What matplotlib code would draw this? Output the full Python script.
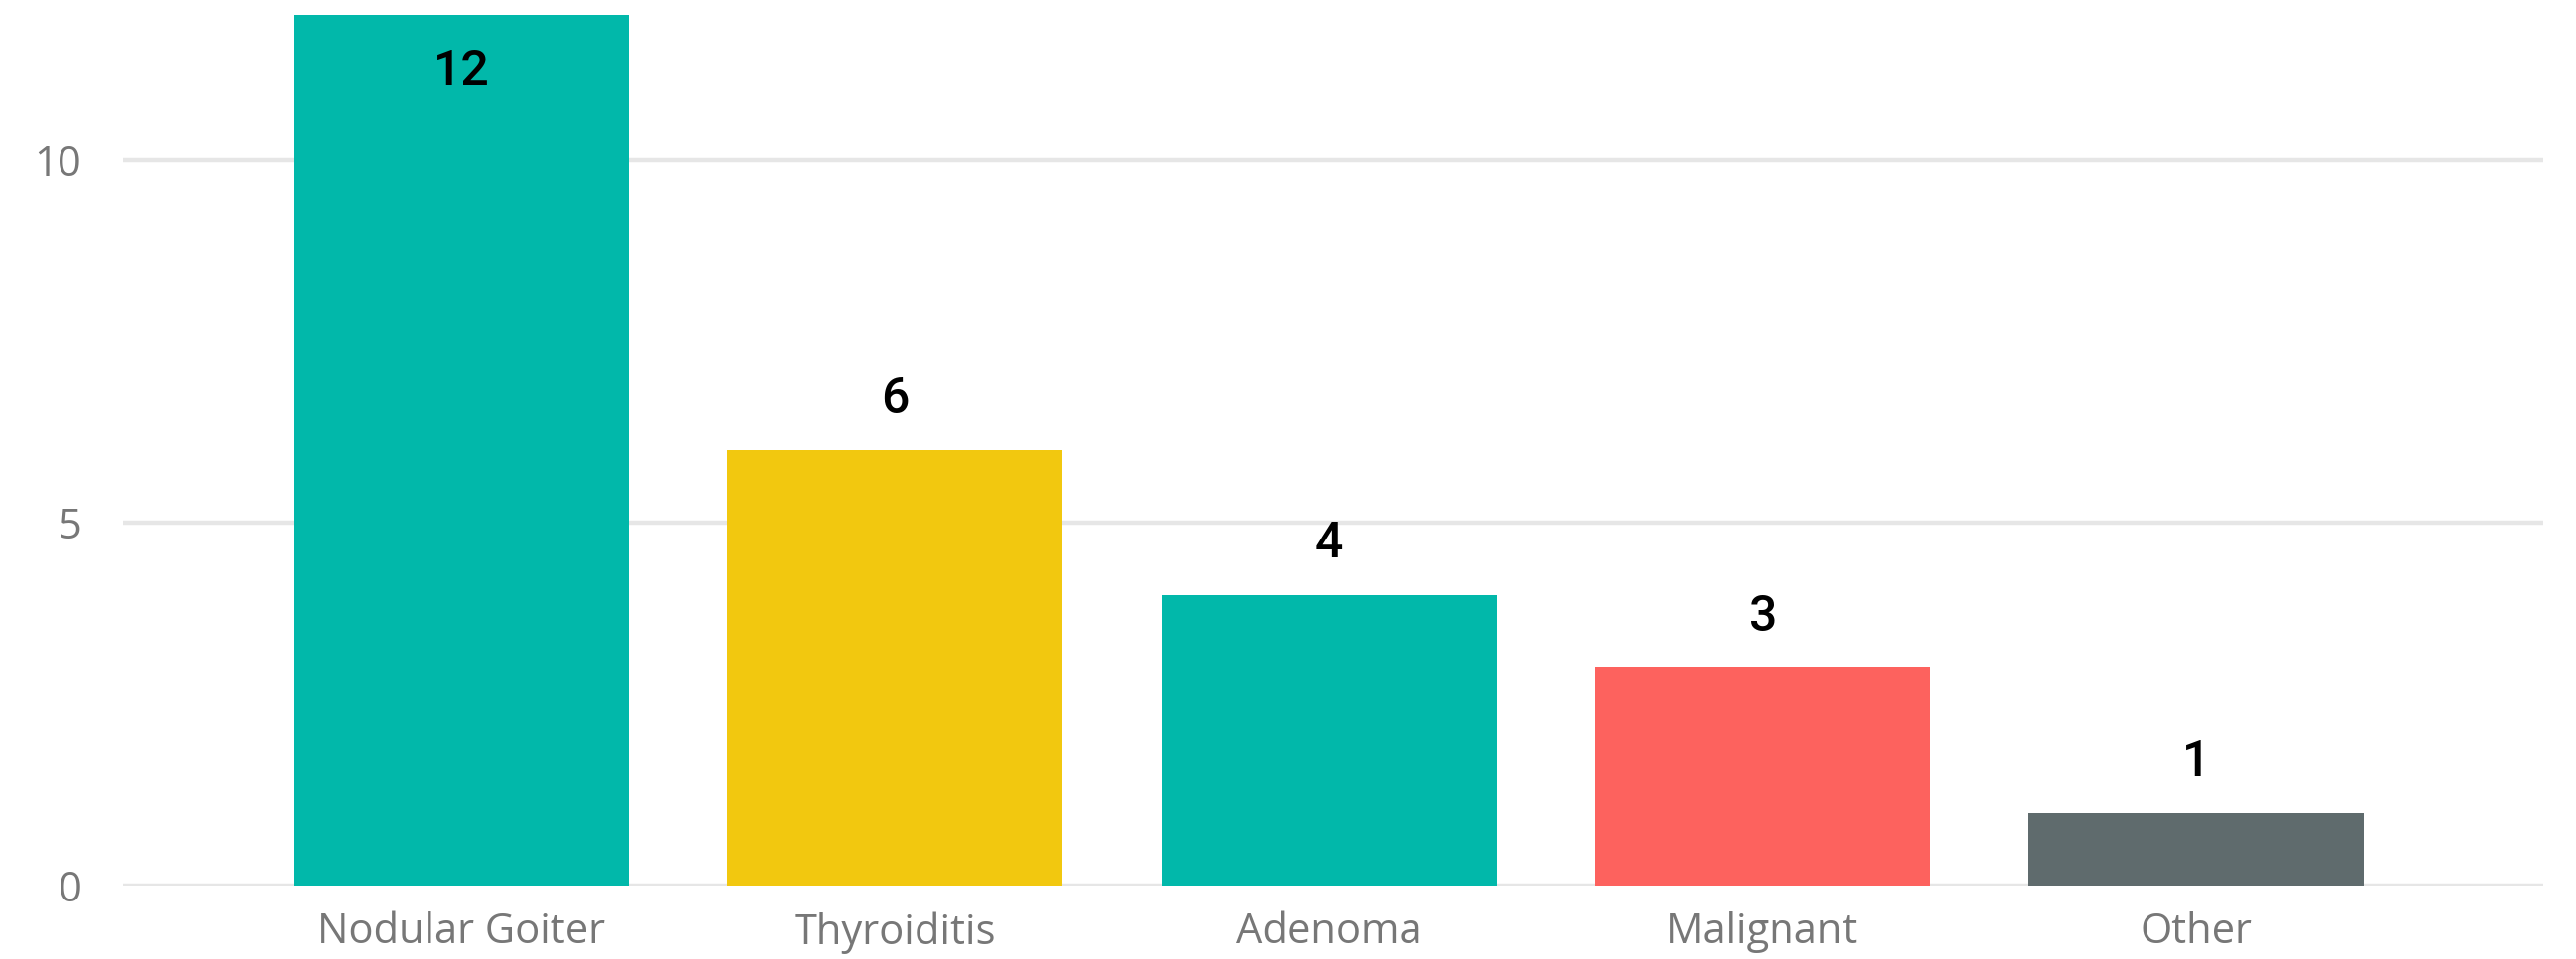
import matplotlib
matplotlib.use("Agg")
import matplotlib.pyplot as plt

categories = ["Nodular Goiter", "Thyroiditis", "Adenoma", "Malignant", "Other"]
counts = [12, 6, 4, 3, 1]
bar_colors = ["#01B8AA", "#F2C80F", "#01B8AA", "#FD625E", "#5F6B6D"]
y_ticks = [0, 5, 10]

fig = plt.figure(figsize=(25.97, 9.67), dpi=100)
ax = fig.add_axes([124 / 2597, 1 - 893 / 967, (2564 - 124) / 2597, 893 / 967])

x = range(len(categories))
bars = ax.bar(x, counts, width=0.773, color=bar_colors, zorder=2)

ax.set_xlim(-0.78, 4.8)
ax.set_ylim(0, 12.2)
ax.set_yticks(y_ticks)
ax.set_xticks(list(x))
ax.set_xticklabels(categories)

for s in ax.spines.values():
    s.set_visible(False)
ax.yaxis.grid(True, color="#e6e6e6", linewidth=3.2, zorder=0)
ax.tick_params(axis="both", length=0, labelcolor="#777777", labelsize=30)
ax.tick_params(axis="y", pad=30)
ax.tick_params(axis="x", pad=19)
for lab in ax.get_xticklabels() + ax.get_yticklabels():
    lab.set_family("Open Sans")

for b, v in zip(bars, counts):
    cx = b.get_x() + b.get_width() / 2
    if v >= 11:
        ax.annotate(str(v), (cx, v), xytext=(0, -24), textcoords="offset points",
                    ha="center", va="top", fontsize=36, family="Roboto",
                    fontweight="medium", color="black")
    else:
        ax.annotate(str(v), (cx, v), xytext=(0, 20), textcoords="offset points",
                    ha="center", va="bottom", fontsize=36, family="Roboto",
                    fontweight="medium", color="black")

fig.savefig("out.png", dpi=100)
